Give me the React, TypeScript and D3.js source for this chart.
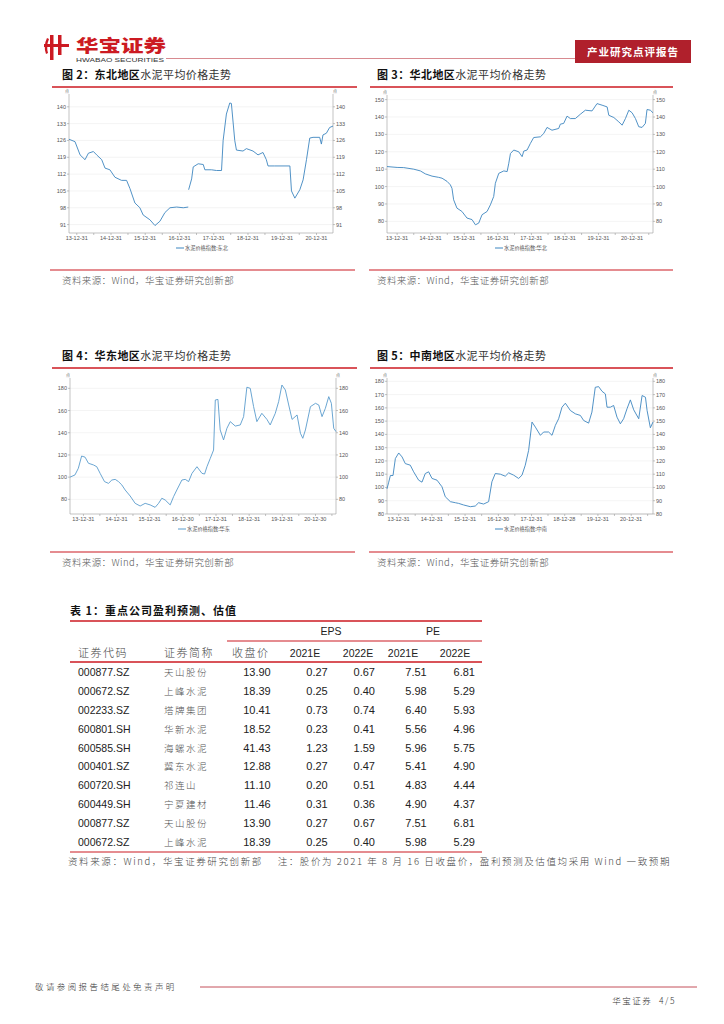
import React from "react";
import * as d3 from "d3";

type Pt = [string, number | null];

// 水泥价格指数
const dongbei: Pt[] = [
  ["2013-10-10", 126.5], ["2013-12-13", 125.5], ["2014-02-05", 120], ["2014-03-30", 118],
  ["2014-05-05", 120.7], ["2014-06-27", 121.4], ["2014-08-01", 120], ["2014-09-24", 118],
  ["2014-10-29", 114.5], ["2014-12-20", 113.8], ["2015-02-12", 110.7], ["2015-04-23", 109.4],
  ["2015-06-16", 109.4], ["2015-07-22", 106], ["2015-09-13", 100], ["2015-11-05", 98],
  ["2015-12-10", 95], ["2016-02-20", 93], ["2016-04-14", 90.6], ["2016-06-06", 92.4],
  ["2016-07-29", 96], ["2016-09-21", 98], ["2016-12-01", 98.3], ["2017-02-10", 98],
  ["2017-04-04", 98.3], ["2017-04-06", null], ["2017-04-08", 105.5], ["2017-05-10", 110],
  ["2017-05-27", 115], ["2017-07-19", 116.3], ["2017-09-11", 116], ["2017-09-28", 113.8],
  ["2017-12-08", 113.8], ["2018-01-30", 113.5], ["2018-03-25", 113.5], ["2018-04-11", 126],
  ["2018-05-16", 137], ["2018-06-21", 141.6], ["2018-07-08", 141.4], ["2018-08-13", 126],
  ["2018-08-31", 122], ["2018-11-09", 121.6], ["2018-12-15", 122.6], ["2019-02-24", 121.6],
  ["2019-04-18", 120], ["2019-06-10", 121], ["2019-07-16", 118], ["2019-08-03", 115.4],
  ["2019-10-13", 115.4], ["2020-03-23", 115.4], ["2020-04-09", 105], ["2020-05-15", 102],
  ["2020-07-07", 105.5], ["2020-08-11", 109.6], ["2020-09-16", 118], ["2020-10-21", 127],
  ["2020-11-25", 127.3], ["2021-02-04", 127.3], ["2021-02-22", 124.5], ["2021-03-11", 128.3],
  ["2021-04-16", 129], ["2021-05-21", 131.4], ["2021-06-26", 132],
];

const huabei: Pt[] = [
  ["2013-09-13", 111.5], ["2014-01-01", 111], ["2014-03-14", 110.9], ["2014-07-01", 110],
  ["2014-09-11", 109], ["2014-11-04", 107.3], ["2015-01-16", 106], ["2015-03-29", 105.3],
  ["2015-05-05", 104.8], ["2015-06-28", 103], ["2015-08-03", 101], ["2015-08-21", 99],
  ["2015-09-08", 92.4], ["2015-10-14", 87.6], ["2015-12-07", 85.7], ["2016-01-31", 81.9],
  ["2016-03-26", 81], ["2016-05-02", 78], ["2016-06-07", 79], ["2016-07-13", 83.8],
  ["2016-09-06", 85.7], ["2016-10-12", 89.5], ["2016-11-17", 94.3], ["2016-12-05", 101.9],
  ["2017-01-11", 107.6], ["2017-03-07", 109], ["2017-04-12", 108.6], ["2017-04-30", 113.4],
  ["2017-05-18", 119], ["2017-06-23", 121], ["2017-08-16", 120], ["2017-09-22", 117.2],
  ["2017-10-10", 120.4], ["2017-11-15", 121], ["2017-12-21", 124.8], ["2018-01-26", 128.2],
  ["2018-04-09", 128.6], ["2018-05-15", 130.5], ["2018-06-20", 134], ["2018-08-13", 132.4],
  ["2018-10-25", 133.4], ["2018-11-12", 135.9], ["2018-12-18", 136.3], ["2019-01-24", 140.5],
  ["2019-03-01", 139.1], ["2019-04-24", 139.1], ["2019-06-18", 141.6], ["2019-08-11", 143.9],
  ["2019-10-23", 143.5], ["2019-12-16", 147.7], ["2020-02-09", 146.8], ["2020-04-04", 145.8],
  ["2020-04-22", 141], ["2020-06-16", 139.7], ["2020-08-09", 137.2], ["2020-09-14", 135.3],
  ["2020-10-20", 139.1], ["2020-11-26", 143.9], ["2021-01-01", 142.4], ["2021-02-06", 139.1],
  ["2021-03-14", 134.4], ["2021-04-19", 134], ["2021-05-25", 136.3], ["2021-06-12", 144.3],
  ["2021-07-18", 143.9], ["2021-08-16", 142.4],
];

const huadong: Pt[] = [
  ["2013-08-06", 100], ["2013-09-30", 102], ["2013-11-06", 108], ["2013-12-12", 119],
  ["2014-01-19", 118], ["2014-02-25", 112.5], ["2014-04-21", 111], ["2014-05-28", 109.4],
  ["2014-07-04", 103.4], ["2014-08-21", 96], ["2014-10-04", 94.4], ["2014-11-10", 97.4],
  ["2014-12-17", 98], ["2015-01-22", 96], ["2015-02-28", 93], ["2015-04-06", 88.4],
  ["2015-05-31", 83], ["2015-07-25", 76.4], ["2015-09-18", 74], ["2015-11-12", 76.4],
  ["2016-01-06", 75], ["2016-03-01", 72.8], ["2016-04-08", 76.4], ["2016-05-14", 81],
  ["2016-06-20", 79.4], ["2016-08-14", 75], ["2016-09-20", 82.4], ["2016-10-26", 88.4],
  ["2016-12-21", 97.4], ["2017-01-27", 98], ["2017-03-05", 96], ["2017-04-11", 103.4],
  ["2017-06-05", 109.4], ["2017-07-30", 103.4], ["2017-08-28", 102.8], ["2017-09-23", 109.4],
  ["2017-10-30", 117], ["2017-12-05", 124.4], ["2017-12-24", 169.5], ["2018-01-22", 170],
  ["2018-02-16", 142.5], ["2018-03-25", 133.5], ["2018-05-01", 144], ["2018-06-07", 150],
  ["2018-08-01", 146], ["2018-09-25", 147], ["2018-11-01", 154.5], ["2018-12-07", 181],
  ["2019-01-13", 180], ["2019-02-19", 163.5], ["2019-03-27", 150], ["2019-05-21", 157.5],
  ["2019-07-16", 152], ["2019-08-21", 147], ["2019-10-16", 157.5], ["2019-11-22", 168],
  ["2019-12-28", 183], ["2020-02-04", 178.5], ["2020-03-12", 165], ["2020-04-18", 152],
  ["2020-06-12", 156], ["2020-07-19", 139.5], ["2020-08-14", 135], ["2020-09-12", 142.5],
  ["2020-11-06", 163.5], ["2021-01-01", 166.5], ["2021-02-06", 165], ["2021-03-14", 154.5],
  ["2021-04-20", 162], ["2021-05-27", 172.5], ["2021-06-25", 166.5], ["2021-07-21", 144],
  ["2021-08-15", 141],
];

const zhongnan: Pt[] = [
  ["2013-08-25", 99], ["2013-09-13", 104], ["2013-10-01", 109], ["2013-10-30", 109],
  ["2013-11-25", 121.8], ["2014-01-01", 126], ["2014-02-07", 123], ["2014-03-14", 118],
  ["2014-05-08", 116.8], ["2014-06-14", 111.8], ["2014-08-08", 105.5], ["2014-09-14", 104],
  ["2014-10-20", 110.5], ["2014-11-26", 111.8], ["2015-01-02", 106.8], ["2015-02-26", 105.5],
  ["2015-04-22", 100.5], ["2015-05-28", 93], ["2015-07-23", 89.3], ["2015-09-16", 88.5],
  ["2015-10-22", 88], ["2015-12-16", 86.8], ["2016-02-28", 85.5], ["2016-04-22", 86],
  ["2016-05-29", 88.5], ["2016-07-23", 87.5], ["2016-09-16", 89.3], ["2016-10-22", 104.3],
  ["2016-11-28", 110.5], ["2017-01-23", 110], ["2017-03-18", 108.5], ["2017-04-24", 111],
  ["2017-06-18", 109.3], ["2017-08-12", 106.8], ["2017-09-18", 109.3], ["2017-10-24", 116.8],
  ["2017-11-30", 128], ["2018-01-06", 149.3], ["2018-02-12", 145.5], ["2018-04-08", 139.3],
  ["2018-05-14", 141.8], ["2018-07-08", 141.8], ["2018-08-14", 139.3], ["2018-09-20", 146.8],
  ["2018-10-26", 151.8], ["2018-12-02", 160.5], ["2019-01-08", 163.5], ["2019-03-04", 158],
  ["2019-04-28", 155.5], ["2019-06-22", 154.3], ["2019-07-28", 150.5], ["2019-09-21", 148.5],
  ["2019-10-27", 156.8], ["2019-12-03", 175.5], ["2020-01-09", 176], ["2020-02-15", 172.5],
  ["2020-03-23", 170.5], ["2020-04-10", 160.5], ["2020-05-17", 160.5], ["2020-06-22", 161.8],
  ["2020-07-29", 153], ["2020-09-04", 148], ["2020-10-10", 151.8], ["2020-11-16", 159.3],
  ["2020-12-23", 166], ["2021-01-29", 158.5], ["2021-03-25", 151.8], ["2021-05-01", 169.3],
  ["2021-06-07", 168], ["2021-06-25", 158], ["2021-07-31", 145], ["2021-08-29", 149.3],
];

const dongbeiTicks = [91, 98, 105, 112, 119, 126, 133, 140];
const huabeiTicks = [80, 90, 100, 110, 120, 130, 140, 150];
const huadongTicks = [80, 100, 120, 140, 160, 180];
const zhongnanTicks = [80, 90, 100, 110, 120, 130, 140, 150, 160, 170, 180];

const labelsA = ["13-12-31", "14-12-31", "15-12-31", "16-12-31", "17-12-31", "18-12-31", "19-12-31", "20-12-31"];
const labelsHD = ["13-12-31", "14-12-31", "15-12-31", "16-12-30", "17-12-31", "18-12-31", "19-12-31", "20-12-30"];
const labelsZN = ["13-12-31", "14-12-31", "15-12-31", "16-12-30", "17-12-31", "18-12-28", "19-12-31", "20-12-31"];

// 表 1
const codes = ["000877.SZ", "000672.SZ", "002233.SZ", "600801.SH", "600585.SH", "000401.SZ", "600720.SH", "600449.SH", "000877.SZ", "000672.SZ"];
const names = ["天山股份", "上峰水泥", "塔牌集团", "华新水泥", "海螺水泥", "冀东水泥", "祁连山", "宁夏建材", "天山股份", "上峰水泥"];
const closePx = ["13.90", "18.39", "10.41", "18.52", "41.43", "12.88", "11.10", "11.46", "13.90", "18.39"];
const eps2021 = ["0.27", "0.25", "0.73", "0.23", "1.23", "0.27", "0.20", "0.31", "0.27", "0.25"];
const eps2022 = ["0.67", "0.40", "0.74", "0.41", "1.59", "0.47", "0.51", "0.36", "0.67", "0.40"];
const pe2021 = ["7.51", "5.98", "6.40", "5.56", "5.96", "5.41", "4.83", "4.90", "7.51", "5.98"];
const pe2022 = ["6.81", "5.29", "5.93", "4.96", "5.75", "4.90", "4.44", "4.37", "6.81", "5.29"];

const RED = "#cc1a22";
const CJK = "'Noto Sans CJK SC', sans-serif";
const LAT = "'Liberation Sans', Arial, sans-serif";
const parseDay = d3.timeParse("%Y-%m-%d");
const parseLabel = d3.timeParse("%y-%m-%d");

interface ChartProps {
  left: number; right: number; top: number; bottom: number;
  data: Pt[]; yDomain: [number, number]; yTicks: number[];
  xLabels: string[]; legend: string; color: string;
}

function PriceChart({ left, right, top, bottom, data, yDomain, yTicks, xLabels, legend, color }: ChartProps) {
  const pts = data.map(([d, v]) => ({ date: parseDay(d)!, v }));
  const x = d3.scaleTime().domain(d3.extent(pts, (p) => p.date) as [Date, Date]).range([left, right]);
  const y = d3.scaleLinear().domain(yDomain).range([bottom, top]);
  const line = d3.line<{ date: Date; v: number | null }>()
    .defined((p) => p.v !== null)
    .x((p) => x(p.date))
    .y((p) => y(p.v as number));
  const minor = d3.timeMonth.every(6)!.range(x.domain()[0], x.domain()[1]);
  const cx = (left + right) / 2;
  const fs = 5.5;

  return (
    <g>
      {yTicks.map((t) => (
        <line key={"g" + t} x1={left} x2={right} y1={y(t)} y2={y(t)} stroke="#ececec" strokeWidth={0.6} />
      ))}
      <line x1={left} x2={left} y1={top - 2} y2={bottom} stroke="#9a9a9a" strokeWidth={0.6} />
      <line x1={right} x2={right} y1={top - 2} y2={bottom} stroke="#9a9a9a" strokeWidth={0.6} />
      <line x1={left} x2={right} y1={bottom} y2={bottom} stroke="#9a9a9a" strokeWidth={0.6} />
      <text x={left - 2} y={top - 3} fontSize={4} fill="#666" fontFamily={CJK} textAnchor="middle">点</text>
      <text x={right + 2} y={top - 3} fontSize={4} fill="#666" fontFamily={CJK} textAnchor="middle">点</text>
      {yTicks.map((t) => (
        <g key={"t" + t}>
          <line x1={left - 2} x2={left} y1={y(t)} y2={y(t)} stroke="#9a9a9a" strokeWidth={0.6} />
          <line x1={right} x2={right + 2} y1={y(t)} y2={y(t)} stroke="#9a9a9a" strokeWidth={0.6} />
          <text x={left - 3} y={y(t) + 2} fontSize={fs} fill="#555" fontFamily={LAT} textAnchor="end">{t}</text>
          <text x={right + 3} y={y(t) + 2} fontSize={fs} fill="#555" fontFamily={LAT}>{t}</text>
        </g>
      ))}
      {minor.map((d, i) => (
        <line key={"m" + i} x1={x(d)} x2={x(d)} y1={bottom} y2={bottom + 2} stroke="#9a9a9a" strokeWidth={0.6} />
      ))}
      {xLabels.map((l) => (
        <text key={l} x={x(parseLabel(l)!)} y={bottom + 7} fontSize={fs} fill="#555" fontFamily={LAT} textAnchor="middle">{l}</text>
      ))}
      <path d={line(pts) ?? ""} fill="none" stroke={color} strokeWidth={0.9} strokeLinejoin="round" />
      <line x1={cx - 25} x2={cx - 17} y1={bottom + 15} y2={bottom + 15} stroke={color} strokeWidth={1} />
      <text x={cx - 16} y={bottom + 17} fontSize={5.2} fill="#555" fontFamily={CJK}>{legend}</text>
    </g>
  );
}

function Heading({ x, y, lineX1, lineX2, bold, rest }: { x: number; y: number; lineX1: number; lineX2: number; bold: string; rest: string }) {
  return (
    <g>
      <text x={x} y={y} fontSize={11} fontFamily={CJK} fill="#111" letterSpacing={0.4}>
        <tspan fontWeight={700}>{bold}</tspan>
        <tspan fontWeight={400} fill="#333">{rest}</tspan>
      </text>
      <line x1={lineX1} x2={lineX2} y1={y + 8} y2={y + 8} stroke={RED} strokeWidth={1.4} />
    </g>
  );
}

function Source({ x, y, x1, x2 }: { x: number; y: number; x1: number; x2: number }) {
  return (
    <g>
      <line x1={x1} x2={x2} y1={y - 14} y2={y - 14} stroke={RED} strokeWidth={1.2} />
      <text x={x} y={y} fontSize={9.5} fontFamily={CJK} fill="#555" fontWeight={300} letterSpacing={0.4}>资料来源：Wind，华宝证券研究创新部</text>
    </g>
  );
}

export default function App() {
  const rowY = d3.scaleLinear().domain([0, 1]).range([676.3, 695.1]);
  const colRight = [270.7, 327.7, 375, 426.7, 475];
  const numCols = [closePx, eps2021, eps2022, pe2021, pe2022];
  const yearHdr = [
    { x: 305, t: "2021E" }, { x: 358, t: "2022E" }, { x: 403, t: "2021E" }, { x: 455, t: "2022E" },
  ];

  return (
    <svg width={724} height={1024} style={{ position: "absolute", left: 0, top: 0, background: "#fff" }}>
      {/* page header */}
      <g fill={RED}>
        <rect x={50} y={35} width={3.5} height={25} />
        <rect x={58} y={35} width={3.5} height={20} />
        <rect x={44} y={44} width={25} height={3} />
        <path d="M47,38 Q43,46 46,54 L48,53 Q46,46 49,39 Z" />
      </g>
      <text x={76} y={52} fontSize={17} fontWeight={900} fill={RED} fontFamily={CJK} textLength={90} lengthAdjust="spacingAndGlyphs">华宝证券</text>
      <text x={76} y={61.5} fontSize={5.4} fill="#333" fontFamily={LAT} textLength={88} lengthAdjust="spacingAndGlyphs">HWABAO SECURITIES</text>
      <line x1={166} x2={575} y1={58.5} y2={58.5} stroke="#d88a90" strokeWidth={1} />
      <rect x={575} y={40} width={116} height={23} fill="#b0202c" />
      <text x={633} y={55.5} fontSize={10.5} fontWeight={700} fill="#fff" fontFamily={CJK} textAnchor="middle" letterSpacing={1}>产业研究点评报告</text>

      {/* figures */}
      <Heading x={62} y={79} lineX1={52} lineX2={357} bold="图 2：东北地区" rest="水泥平均价格走势" />
      <Heading x={377} y={79} lineX1={370} lineX2={673} bold="图 3：华北地区" rest="水泥平均价格走势" />
      <PriceChart left={69} right={333} top={96} bottom={233} data={dongbei} yDomain={[87.5, 144.5]}
        yTicks={dongbeiTicks} xLabels={labelsA} legend="水泥价格指数:东北" color="#3d86c0" />
      <PriceChart left={387} right={653} top={97} bottom={233} data={huabei} yDomain={[73.3, 151.5]}
        yTicks={huabeiTicks} xLabels={labelsA} legend="水泥价格指数:华北" color="#3d86c0" />
      <Source x={62} y={284} x1={50} x2={355} />
      <Source x={377} y={284} x1={369} x2={673} />

      <Heading x={62} y={360} lineX1={52} lineX2={357} bold="图 4：华东地区" rest="水泥平均价格走势" />
      <Heading x={377} y={360} lineX1={370} lineX2={673} bold="图 5：中南地区" rest="水泥平均价格走势" />
      <PriceChart left={70} right={336} top={380} bottom={514} data={huadong} yDomain={[66.8, 187.5]}
        yTicks={huadongTicks} xLabels={labelsHD} legend="水泥价格指数:华东" color="#5a9ccd" />
      <PriceChart left={387} right={653} top={380} bottom={514} data={zhongnan} yDomain={[80, 181]}
        yTicks={zhongnanTicks} xLabels={labelsZN} legend="水泥价格指数:中南" color="#3d86c0" />
      <Source x={62} y={566} x1={50} x2={355} />
      <Source x={377} y={566} x1={369} x2={673} />

      {/* table */}
      <text x={70} y={615} fontSize={11} fontWeight={700} fontFamily={CJK} fill="#111" letterSpacing={1}>表 1：重点公司盈利预测、估值</text>
      <line x1={70} x2={482} y1={621} y2={621} stroke={RED} strokeWidth={1.4} />
      <text x={331} y={635} fontSize={10.5} fontFamily={LAT} fill="#222" textAnchor="middle">EPS</text>
      <text x={433} y={635} fontSize={10.5} fontFamily={LAT} fill="#222" textAnchor="middle">PE</text>
      <line x1={227} x2={482} y1={641} y2={641} stroke={RED} strokeWidth={1.2} />
      <text x={78} y={657} fontSize={11} fontFamily={CJK} fontWeight={300} fill="#444" letterSpacing={1.5}>证券代码</text>
      <text x={164} y={657} fontSize={11} fontFamily={CJK} fontWeight={300} fill="#444" letterSpacing={1.5}>证券简称</text>
      <text x={232} y={657} fontSize={11} fontFamily={CJK} fontWeight={300} fill="#444" letterSpacing={1.5}>收盘价</text>
      {yearHdr.map((h, i) => (
        <text key={i} x={h.x} y={657} fontSize={10.5} fontFamily={LAT} fill="#222" textAnchor="middle">{h.t}</text>
      ))}
      <line x1={70} x2={482} y1={662} y2={662} stroke={RED} strokeWidth={1.4} />
      {codes.map((c, i) => (
        <g key={i}>
          <text x={78} y={rowY(i)} fontSize={10.5} fontFamily={LAT} fill="#222">{c}</text>
          <text x={164} y={rowY(i)} fontSize={9.5} fontFamily={CJK} fontWeight={300} fill="#555" letterSpacing={1.5}>{names[i]}</text>
          {numCols.map((col, j) => (
            <text key={j} x={colRight[j]} y={rowY(i)} fontSize={11} fontFamily={LAT} fill="#222" textAnchor="end">{col[i]}</text>
          ))}
        </g>
      ))}
      <line x1={70} x2={482} y1={852} y2={852} stroke={RED} strokeWidth={1.2} />
      <text x={68} y={865} fontSize={9.5} fontFamily={CJK} fontWeight={300} fill="#444" letterSpacing={1.6}>
        资料来源：Wind，华宝证券研究创新部{"\u00a0\u00a0\u00a0\u00a0"}注：股价为 2021 年 8 月 16 日收盘价，盈利预测及估值均采用 Wind 一致预期
      </text>

      {/* footer */}
      <text x={35} y={990} fontSize={8.5} fontFamily={CJK} fontWeight={300} fill="#333" letterSpacing={2.4}>敬请参阅报告结尾处免责声明</text>
      <line x1={200} x2={697} y1={987} y2={987} stroke="#c4505a" strokeWidth={1} />
      <text x={676} y={1004} fontSize={8.5} fontFamily={CJK} fontWeight={300} fill="#333" textAnchor="end" letterSpacing={1.5}>华宝证券{"\u00a0\u00a0"}4/5</text>
    </svg>
  );
}
